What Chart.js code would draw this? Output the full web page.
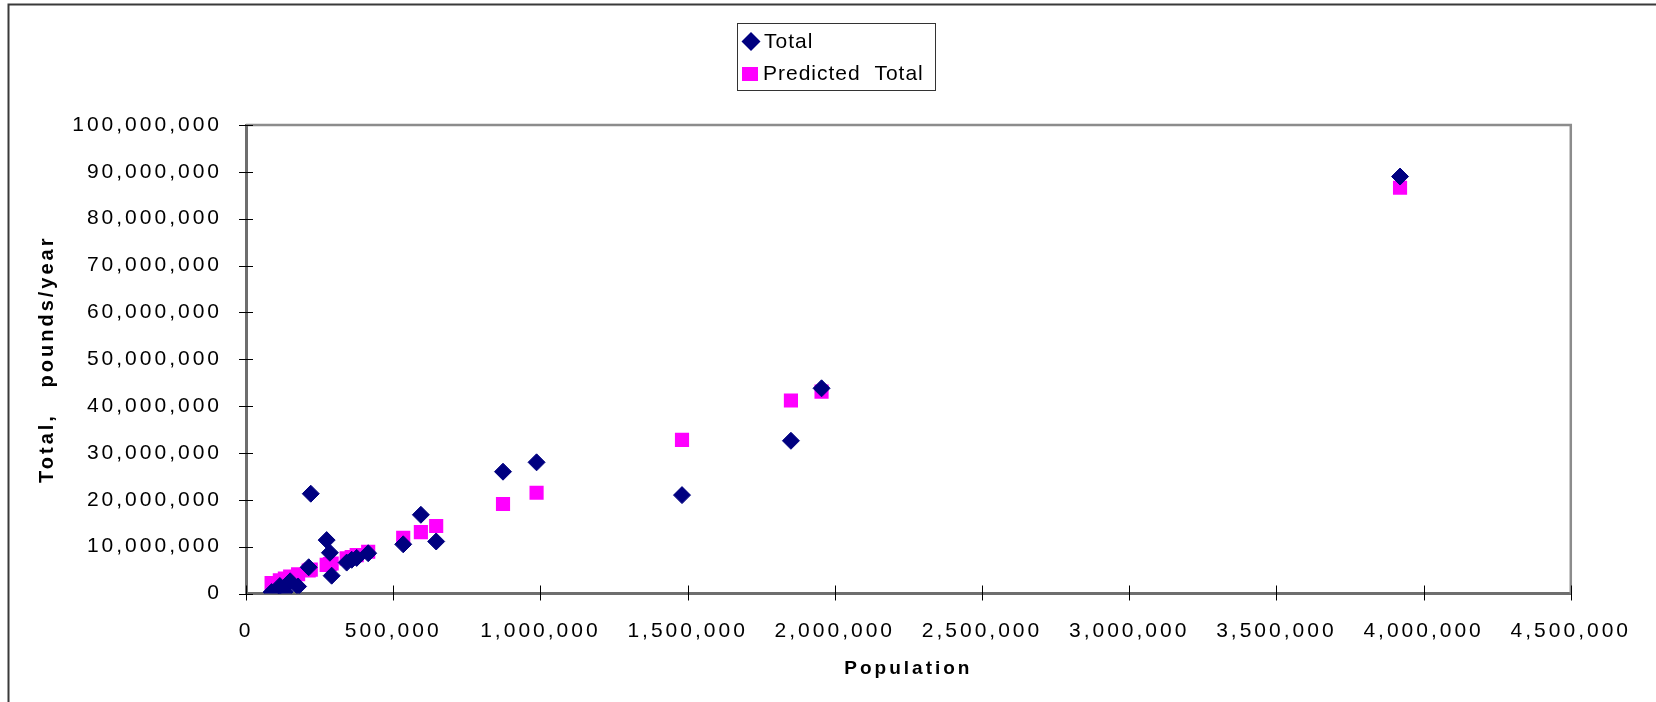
<!DOCTYPE html>
<html>
<head>
<meta charset="utf-8">
<script src="https://cdn.jsdelivr.net/npm/chart.js@4.4.1/dist/chart.umd.min.js"></script>
<style>
  html, body { margin: 0; padding: 0; background: #ffffff; }
  #wrap { position: relative; width: 1656px; height: 702px; }
</style>
</head>
<body>
<div id="wrap"><canvas id="chart" width="1656" height="702"></canvas></div>
<script>
// Population of each area (x) against yearly total, pounds/year (y)
const population = [87000, 115000, 132000, 150000, 177000, 213000, 220000, 274000, 285000, 291000,
    342000, 359000, 376000, 415000, 534000, 594000, 646000, 873000, 987000, 1481000,
    1851000, 1955000, 3920000];
const totalValues = [300000, 1600000, 400000, 2600000, 1500000, 5600000, 21300000, 11400000, 8700000, 3800000,
    6600000, 7200000, 7600000, 8600000, 10500000, 16800000, 11100000, 26000000, 28000000, 21000000,
    32600000, 43800000, 89000000];
const predictedValues = [2200000, 2800000, 3200000, 3600000, 4100000, 4900000, 5100000, 6100000, 6300000, 6400000,
    7500000, 7800000, 8200000, 8900000, 11900000, 13100000, 14400000, 19100000, 21500000, 32800000,
    41200000, 43100000, 86600000];

const xTicks = [0, 500000, 1000000, 1500000, 2000000, 2500000, 3000000, 3500000, 4000000, 4500000];
const yTicks = [0, 10000000, 20000000, 30000000, 40000000, 50000000, 60000000, 70000000, 80000000, 90000000, 100000000];

const seriesNames = ['Total', 'Predicted  Total'];
const NAVY = '#000080';
const MAGENTA = '#ff00ff';
const FONT = 'Arial, "Liberation Sans", sans-serif';

const toPoints = (xs, ys) => xs.map((x, i) => ({ x: x, y: ys[i] }));
const fmt = v => Number(v).toLocaleString('en-US');

// Excel-like wide letter spacing; canvas state is reset on resize, so set it each pass
const spacingPlugin = {
    id: 'spacing',
    beforeUpdate(chart) { chart.ctx.letterSpacing = '3px'; },
    beforeDraw(chart) { chart.ctx.letterSpacing = '3px'; }
};

// Outer frame, plot area box and the cross tick marks
const framePlugin = {
    id: 'frame',
    beforeDatasetsDraw(chart) {
        const { ctx, chartArea: a } = chart;
        ctx.save();
        ctx.strokeStyle = '#8c8c8c';
        ctx.lineWidth = 2.5;
        ctx.beginPath();
        ctx.moveTo(a.left, a.top);
        ctx.lineTo(a.right, a.top);
        ctx.lineTo(a.right, a.bottom);
        ctx.stroke();

        ctx.strokeStyle = '#000000';
        ctx.lineWidth = 1;
        const xs = chart.scales.x, ys = chart.scales.y;
        xTicks.forEach(v => {
            const px = Math.round(xs.getPixelForValue(v)) + 0.5;
            ctx.beginPath();
            ctx.moveTo(px, a.bottom - 8);
            ctx.lineTo(px, a.bottom + 7);
            ctx.stroke();
        });
        yTicks.forEach(v => {
            const py = Math.round(ys.getPixelForValue(v)) + 0.5;
            ctx.beginPath();
            ctx.moveTo(a.left - 7, py);
            ctx.lineTo(a.left + 7, py);
            ctx.stroke();
        });

        // page frame (top and left edge only, like the clipped original)
        ctx.strokeStyle = '#3a3a3a';
        ctx.lineWidth = 2;
        ctx.beginPath();
        ctx.moveTo(8.5, 702);
        ctx.lineTo(8.5, 4.5);
        ctx.lineTo(1656, 4.5);
        ctx.stroke();
        ctx.restore();
    }
};

// Boxed legend with rows stacked, left aligned
const legendPlugin = {
    id: 'boxLegend',
    afterDraw(chart) {
        const ctx = chart.ctx;
        const box = { x: 737.5, y: 23.5, w: 198, h: 67 };
        ctx.save();
        ctx.letterSpacing = '1px';
        ctx.fillStyle = '#ffffff';
        ctx.fillRect(box.x, box.y, box.w, box.h);
        ctx.strokeStyle = '#333333';
        ctx.lineWidth = 1;
        ctx.strokeRect(box.x, box.y, box.w, box.h);

        // diamond marker
        ctx.fillStyle = NAVY;
        ctx.beginPath();
        ctx.moveTo(751, 32);
        ctx.lineTo(760.5, 41.5);
        ctx.lineTo(751, 51);
        ctx.lineTo(741.5, 41.5);
        ctx.closePath();
        ctx.fill();
        // square marker
        ctx.fillStyle = MAGENTA;
        ctx.fillRect(742, 67, 16, 14);

        ctx.fillStyle = '#000000';
        ctx.font = '21px ' + FONT;
        ctx.textBaseline = 'middle';
        ctx.textAlign = 'left';
        ctx.fillText(seriesNames[0], 764, 42);
        ctx.fillText(seriesNames[1], 763, 74);
        ctx.restore();
    }
};

new Chart(document.getElementById('chart'), {
    type: 'scatter',
    data: {
        datasets: [
            {
                label: seriesNames[0],
                data: toPoints(population, totalValues),
                pointStyle: 'rectRot',
                pointRadius: 8.5,
                pointBorderWidth: 1,
                backgroundColor: NAVY,
                borderColor: NAVY
            },
            {
                label: seriesNames[1],
                data: toPoints(population, predictedValues),
                pointStyle: 'rect',
                pointRadius: 10,
                pointBorderWidth: 0,
                backgroundColor: MAGENTA,
                borderColor: MAGENTA
            }
        ]
    },
    options: {
        responsive: false,
        animation: false,
        layout: { padding: { left: 35.5, top: 125, right: 84, bottom: 22 } },
        plugins: {
            legend: { display: false },
            tooltip: { enabled: false }
        },
        scales: {
            x: {
                type: 'linear',
                min: 0,
                max: 4500000,
                afterFit: s => { s.height = 86.5; },
                afterBuildTicks: s => { s.ticks = xTicks.map(v => ({ value: v })); },
                grid: { display: false, drawTicks: false },
                border: { display: true, color: '#6e6e6e', width: 3 },
                ticks: {
                    padding: 25,
                    color: '#000000',
                    maxRotation: 0,
                    autoSkip: false,
                    font: { family: FONT, size: 21 },
                    callback: v => fmt(v)
                },
                title: {
                    display: true,
                    text: 'Population',
                    color: '#000000',
                    padding: 0,
                    font: { family: FONT, size: 19, weight: 'bold' }
                }
            },
            y: {
                type: 'linear',
                min: 0,
                max: 100000000,
                afterFit: s => { s.width = 210.5; },
                afterBuildTicks: s => { s.ticks = yTicks.map(v => ({ value: v })); },
                grid: { display: false, drawTicks: false },
                border: { display: true, color: '#6e6e6e', width: 3 },
                ticks: {
                    padding: 24,
                    color: '#000000',
                    autoSkip: false,
                    font: { family: FONT, size: 21 },
                    callback: v => fmt(v)
                },
                title: {
                    display: true,
                    text: 'Total,   pounds/year',
                    color: '#000000',
                    padding: 0,
                    font: { family: FONT, size: 20, weight: 'bold' }
                }
            }
        }
    },
    plugins: [spacingPlugin, framePlugin, legendPlugin]
});
</script>
</body>
</html>
